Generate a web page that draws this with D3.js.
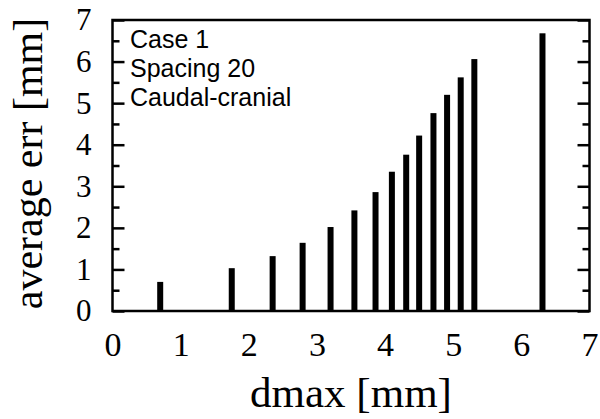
<!DOCTYPE html>
<html>
<head>
<meta charset="utf-8">
<script src="https://cdn.jsdelivr.net/npm/d3@7"></script>
<style>
  body { margin: 0; background: white; }
  svg { display: block; }
</style>
</head>
<body>
<div id="chart"></div>
<script>
// dmax values (x) and average error (y)
const dmaxValues = [0.70, 1.75, 2.35, 2.79, 3.20, 3.55, 3.86, 4.10, 4.31, 4.50, 4.71, 4.91, 5.11, 5.31, 6.31];
const avgErr     = [0.70, 1.03, 1.32, 1.64, 2.02, 2.42, 2.86, 3.35, 3.76, 4.22, 4.76, 5.20, 5.62, 6.06, 6.68];
const xTicks = [0, 1, 2, 3, 4, 5, 6, 7];
const yTicks = [0, 1, 2, 3, 4, 5, 6, 7];
const yMinorTicks = [0.5, 1.5, 2.5, 3.5, 4.5, 5.5, 6.5];
const legendLines = ['Case 1', 'Spacing 20', 'Caudal-cranial'];

const width = 600;
const height = 419;
const margin = {left: 112.5, right: 10.5, top: 20, bottom: 108};

const serif = '"Liberation Serif", "DejaVu Serif", serif';
const sans = '"Liberation Sans", Arial, sans-serif';

const svg = d3.select('#chart')
    .append('svg')
    .attr('width', width)
    .attr('height', height)
    .style('background-color', 'white');

const x = d3.scaleLinear()
    .domain([0, 7])
    .range([margin.left, width - margin.right]);

const y = d3.scaleLinear()
    .domain([0, 7])
    .range([height - margin.bottom, margin.top]);

const data = dmaxValues.map((d, i) => ({dmax: d, err: avgErr[i]}));

// bars
svg.append('g')
    .selectAll('rect')
    .data(data)
    .enter()
    .append('rect')
    .attr('x', d => x(d.dmax) - 3)
    .attr('y', d => y(d.err))
    .attr('width', 6)
    .attr('height', d => y(0) - y(d.err))
    .attr('fill', 'black');

// left axis, ticks pointing inward
const yAxis = svg.append('g')
    .attr('transform', `translate(${x(0)},0)`)
    .call(d3.axisLeft(y).tickValues(yTicks).tickSize(-12).tickPadding(21).tickFormat(d3.format('d')));
svg.append('g')
    .attr('transform', `translate(${x(0)},0)`)
    .call(d3.axisLeft(y).tickValues(yMinorTicks).tickSize(-7).tickFormat(''));

// right axis, no labels
svg.append('g')
    .attr('transform', `translate(${x(7)},0)`)
    .call(d3.axisRight(y).tickValues(yTicks).tickSize(-12).tickFormat(''));
svg.append('g')
    .attr('transform', `translate(${x(7)},0)`)
    .call(d3.axisRight(y).tickValues(yMinorTicks).tickSize(-7).tickFormat(''));

// bottom axis labels only
svg.append('g')
    .attr('class', 'xaxis')
    .attr('transform', `translate(0,${y(0)})`)
    .call(d3.axisBottom(x).tickValues(xTicks).tickSize(0).tickPadding(21).tickFormat(d3.format('d')));

svg.selectAll('.domain').remove();
svg.selectAll('.tick line')
    .attr('stroke', 'black')
    .attr('stroke-width', 2.5);
svg.selectAll('.tick text')
    .attr('fill', 'black')
    .style('font-family', serif)
    .style('font-size', '31px');
svg.selectAll('.xaxis .tick text')
    .style('font-size', '34px');

// frame
svg.append('rect')
    .attr('x', x(0))
    .attr('y', y(7))
    .attr('width', x(7) - x(0))
    .attr('height', y(0) - y(7))
    .attr('fill', 'none')
    .attr('stroke', 'black')
    .attr('stroke-width', 2.5);

// legend text
svg.append('g')
    .selectAll('text')
    .data(legendLines)
    .enter()
    .append('text')
    .attr('x', 130)
    .attr('y', (d, i) => 48 + i * 29)
    .style('font-family', sans)
    .style('font-size', '25px')
    .attr('fill', 'black')
    .text(d => d);

// axis titles
svg.append('text')
    .attr('x', (x(0) + x(7)) / 2)
    .attr('y', 407)
    .attr('text-anchor', 'middle')
    .style('font-family', serif)
    .style('font-size', '43px')
    .text('dmax [mm]');

svg.append('text')
    .attr('transform', `translate(42,${(y(0) + y(7)) / 2 - 2}) rotate(-90)`)
    .attr('text-anchor', 'middle')
    .style('font-family', serif)
    .style('font-size', '42px')
    .text('average err [mm]');
</script>
</body>
</html>
